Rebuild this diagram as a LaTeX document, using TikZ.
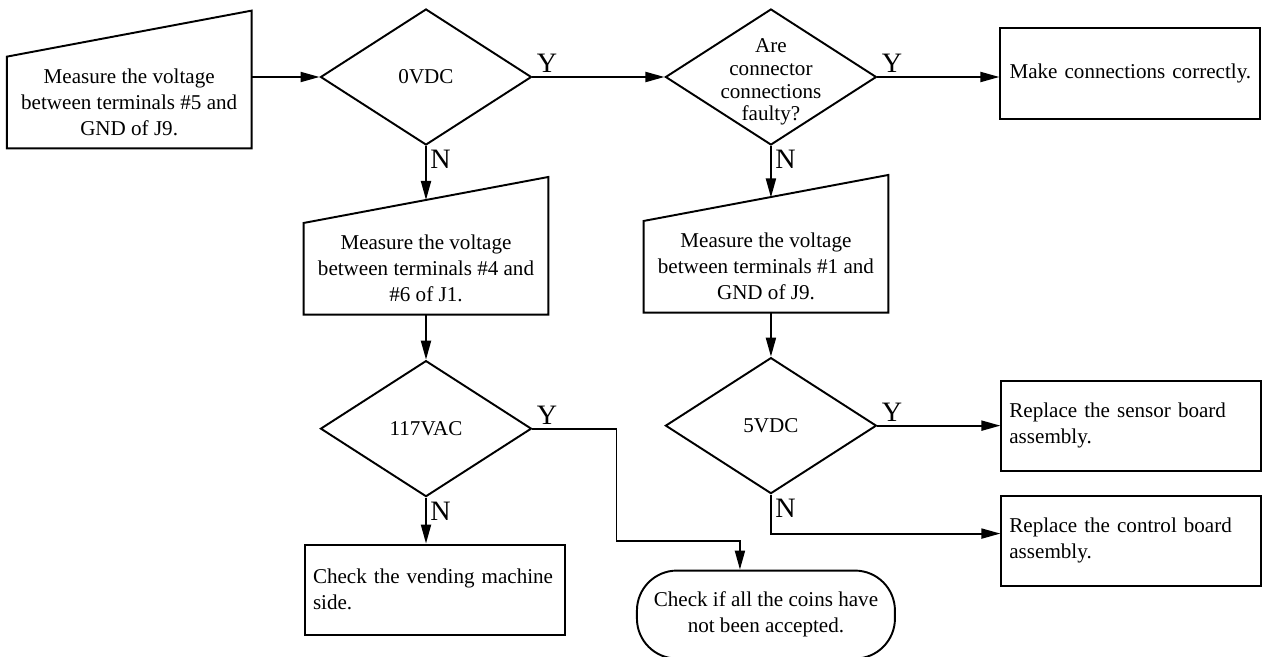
\documentclass[tikz,border=0pt]{standalone}
\usepackage{fontspec}
\setmainfont{Liberation Serif}
\usepackage{tikz}
\usetikzlibrary{positioning, arrows.meta, shapes.geometric, calc}

\begin{document}
\begin{tikzpicture}[
    node distance=1.5cm and 2.5cm,
    every node/.style={font=\fontsize{12}{14.8}\selectfont},
    decision/.style={diamond, draw, line width=1.1pt, minimum width=4.22cm, minimum height=2.72cm, inner sep=0pt, align=center},
    measure/.style={rectangle, minimum width=4.88cm, minimum height=1.82cm, align=center, inner sep=2pt},
    block/.style={rectangle, draw, line width=1.1pt, minimum width=5.2cm, minimum height=1.8cm, text width=4.88cm, inner xsep=0.16cm, align=left},
    finish/.style={rectangle, draw, line width=1.1pt, rounded corners=0.8cm, minimum width=5.16cm, minimum height=1.76cm, align=center},
    arr/.style={-{Triangle[length=3.8mm, width=2mm]}, line width=1.1pt},
    yn/.style={font=\fontsize{16}{18}\selectfont, inner sep=2pt},
]
\useasboundingbox (0,0) rectangle (25.24,-13.14);

\node[decision] (q1) at (8.52,-1.54) {0VDC};
\node[measure, left=1.36cm of q1, yshift=-0.51cm] (meas1) {Measure the voltage\\between terminals \#5 and\\GND of J9.};
\node[decision, right=2.64cm of q1, label={[font=\fontsize{12}{13}\selectfont, align=center, yshift=-0.1cm]center:Are\\connector\\connections\\faulty?}] (q2) {};
\node[block, align=center, minimum height=1.82cm, right=2.44cm of q2, yshift=0.07cm] (make) {Make connections correctly.};
\node[measure, below=1.54cm of q1] (meas2) {Measure the voltage\\between terminals \#4 and\\\#6 of J1.};
\node[measure, below=1.5cm of q2, xshift=-0.1cm] (meas3) {Measure the voltage\\between terminals \#1 and\\GND of J9.};
\node[decision, below=0.9cm of meas2] (q3) {117VAC};
\node[decision, below=0.88cm of meas3, xshift=0.1cm] (q4) {5VDC};
\node[block, below=0.92cm of q3, xshift=0.18cm] (vend) {Check the vending machine\\side.};
\node[block, right=2.46cm of q4] (sensor) {Replace the sensor board\\assembly.};
\node[block, below=0.46cm of sensor] (control) {Replace the control board\\assembly.};
\node[finish, below=1.5cm of q4, xshift=-0.1cm] (coins) {Check if all the coins have\\not been accepted.};

% slanted tops of the manual input boxes
\foreach \m in {meas1, meas2, meas3}
  \draw[line width=1.1pt] (\m.south west) -- (\m.south east) -- ([yshift=0.92cm]\m.north east) -- (\m.north west) -- cycle;
\coordinate (top2) at ([yshift=0.46cm]meas2.north);
\coordinate (top3) at ($(meas3.north west)!(q2.south)!(meas3.north east)+(0,0.47cm)$);

\draw[arr] (meas1.east |- q1.west) -- (q1.west);
\draw[arr] (q1.east) -- node[yn, pos=0, above right] {Y} (q2.west);
\draw[arr] (q1.south) -- node[yn, pos=0, below right] {N} (top2);
\draw[arr] (q2.east) -- node[yn, pos=0, above right] {Y} (q2.east -| make.west);
\draw[arr] (q2.south) -- node[yn, pos=0, below right] {N} (top3);
\draw[arr] (meas2.south) -- (q3.north);
\draw[arr] (q4.north |- meas3.south) -- (q4.north);
\draw[arr] (q3.south) -- node[yn, pos=0, below right] {N} (q3.south |- vend.north);
\draw[arr] (q3.east) -- node[yn, pos=0, above right] {Y} ++(1.68,0) |- ([xshift=-0.52cm, yshift=0.58cm]coins.north) -- ([xshift=-0.52cm]coins.north);
\draw[arr] (q4.east) -- node[yn, pos=0, above right] {Y} (q4.east -| sensor.west);
\draw[arr] (q4.south) |- node[yn, pos=0, below right] {N} ([yshift=0.14cm]control.west);
\end{tikzpicture}
\end{document}
